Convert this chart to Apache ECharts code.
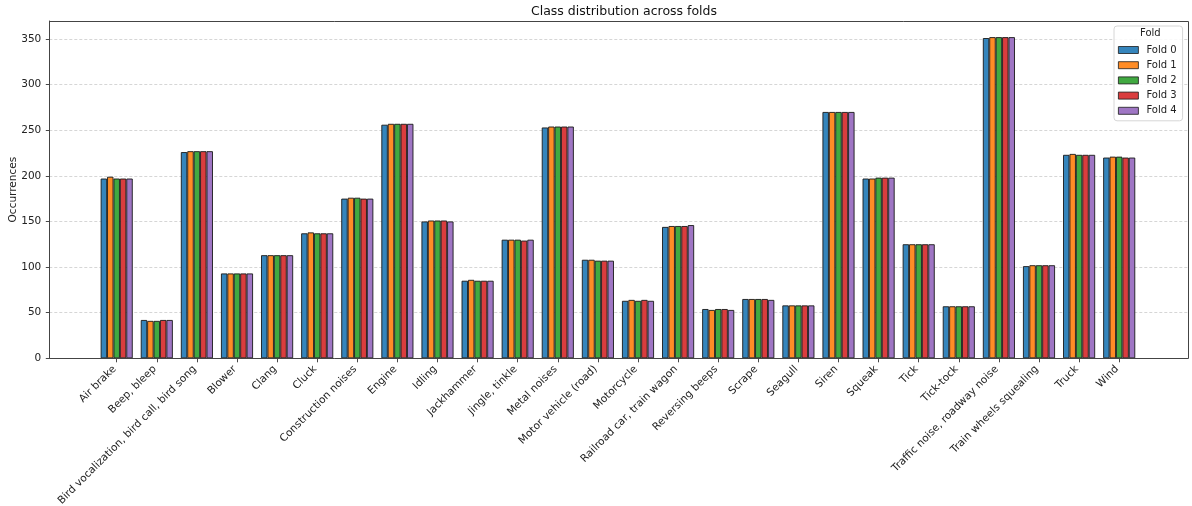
<!DOCTYPE html>
<html>
<head>
<meta charset="utf-8">
<script src="https://cdn.jsdelivr.net/npm/echarts@6/dist/echarts.min.js"></script>
<style>
html,body{margin:0;padding:0;background:#fff;}
#chart{width:1192px;height:506px;}
</style>
</head>
<body>
<div id="chart"></div>
<script>
const categories = ["Air brake","Beep, bleep","Bird vocalization, bird call, bird song","Blower","Clang","Cluck","Construction noises","Engine","Idling","Jackhammer","Jingle, tinkle","Metal noises","Motor vehicle (road)","Motorcycle","Railroad car, train wagon","Reversing beeps","Scrape","Seagull","Siren","Squeak","Tick","Tick-tock","Traffic noise, roadway noise","Train wheels squealing","Truck","Wind"];
const seriesNames = ["Fold 0","Fold 1","Fold 2","Fold 3","Fold 4"];
const fold0 = [197, 42, 226, 93, 113, 137, 175, 256, 150, 85, 130, 253, 108, 63, 144, 54, 65, 58, 270, 197, 125, 57, 351, 101, 223, 220];
const fold1 = [199, 41, 227, 93, 113, 138, 176, 257, 151, 86, 130, 254, 108, 64, 145, 53, 65, 58, 270, 197, 125, 57, 352, 102, 224, 221];
const fold2 = [197, 41, 227, 93, 113, 137, 176, 257, 151, 85, 130, 254, 107, 63, 145, 54, 65, 58, 270, 198, 125, 57, 352, 102, 223, 221];
const fold3 = [197, 42, 227, 93, 113, 137, 175, 257, 151, 85, 129, 254, 107, 64, 145, 54, 65, 58, 270, 198, 125, 57, 352, 102, 223, 220];
const fold4 = [197, 42, 227, 93, 113, 137, 175, 257, 150, 85, 130, 254, 107, 63, 146, 53, 64, 58, 270, 198, 125, 57, 352, 102, 223, 220];
const yTickValues = [0, 50, 100, 150, 200, 250, 300, 350];
const yMax = 369.7;

const colors = ["#3585bc", "#ff8c26", "#41a941", "#da3d3e", "#9f76c4"];
const foldData = [fold0, fold1, fold2, fold3, fold4];
const FONT = "DejaVu Sans";

const chart = echarts.init(document.getElementById('chart'), null, {renderer: 'canvas'});

const series = seriesNames.map((name, i) => ({
  name: name,
  type: 'bar',
  xAxisIndex: 1,
  yAxisIndex: 1,
  data: foldData[i],
  barGap: '0%',
  barCategoryGap: '20%',
  itemStyle: { color: colors[i], borderColor: '#1a1a1a', borderWidth: 0.9 },
  emphasis: { disabled: true },
  animation: false
}));

const option = {
  animation: false,
  title: {
    text: 'Class distribution across folds',
    left: 619, top: 0, textAlign: 'center',
    textStyle: { fontFamily: FONT, fontSize: 12.5, fontWeight: 'normal', color: '#111' }
  },
  grid: [
    { left: 49.3, right: 3.3, top: 21, bottom: 147.7, containLabel: false, outerBoundsMode: 'none' },
    { left: 96.65, width: 1042.6, top: 21, bottom: 147.7, containLabel: false, outerBoundsMode: 'none' }
  ],
  xAxis: [
    { type: 'value', gridIndex: 0, min: 0, max: 1, show: false },
    {
      type: 'category', gridIndex: 1, data: categories,
      axisLine: { show: false },
      axisTick: { show: true, alignWithLabel: true, length: 4, lineStyle: { color: '#333', width: 0.9 } },
      axisLabel: { interval: 0, rotate: 45, fontFamily: FONT, fontSize: 10.5, color: '#222', margin: 7,
        padding: [0, 3, 6, 0] },
      splitLine: { show: false }
    }
  ],
  yAxis: [
    {
      type: 'value', gridIndex: 0, min: 0, max: yMax, interval: 50,
      name: 'Occurrences', nameLocation: 'middle', nameGap: 31, nameMoveOverlap: false,
      nameTextStyle: { fontFamily: FONT, fontSize: 10.5, color: '#222' },
      axisLine: { show: true, lineStyle: { color: '#444', width: 1 } },
      axisTick: { show: true, length: 3.5, customValues: yTickValues, lineStyle: { color: '#333', width: 0.9 } },
      axisLabel: { fontFamily: FONT, fontSize: 10.5, color: '#222', margin: 8, customValues: yTickValues,
        formatter: v => (v % 50 === 0 ? String(v) : '') },
      splitLine: { show: true, lineStyle: { color: '#cccccc', type: [3, 2], width: 0.8 } }
    },
    { type: 'value', gridIndex: 1, min: 0, max: yMax, show: false }
  ],
  legend: {
    data: seriesNames,
    orient: 'vertical',
    left: 1114, top: 26,
    padding: [18, 6, 4, 4],
    itemWidth: 20, itemHeight: 7, itemGap: 3.2,
    icon: 'rect',
    itemStyle: { borderWidth: 0.8, borderColor: '#1a1a1a' },
    backgroundColor: 'rgba(255,255,255,0.85)',
    borderColor: '#d6d6d6', borderWidth: 1, borderRadius: 3,
    textStyle: { fontFamily: FONT, fontSize: 10, color: '#222', lineHeight: 12, padding: [0, 0, 0, 3] },
    selectedMode: false
  },
  graphic: [
    {
      type: 'text', left: 1140, top: 28, z: 200,
      style: { text: 'Fold', fontFamily: FONT, fontSize: 10, fill: '#222' }
    },
    {
      type: 'rect', z: 150, silent: true,
      shape: { x: 49.5, y: 21.5, width: 1139, height: 337 },
      style: { fill: 'none', stroke: '#444', lineWidth: 1 }
    }
  ],
  series: series
};
chart.setOption(option);
</script>
</body>
</html>
